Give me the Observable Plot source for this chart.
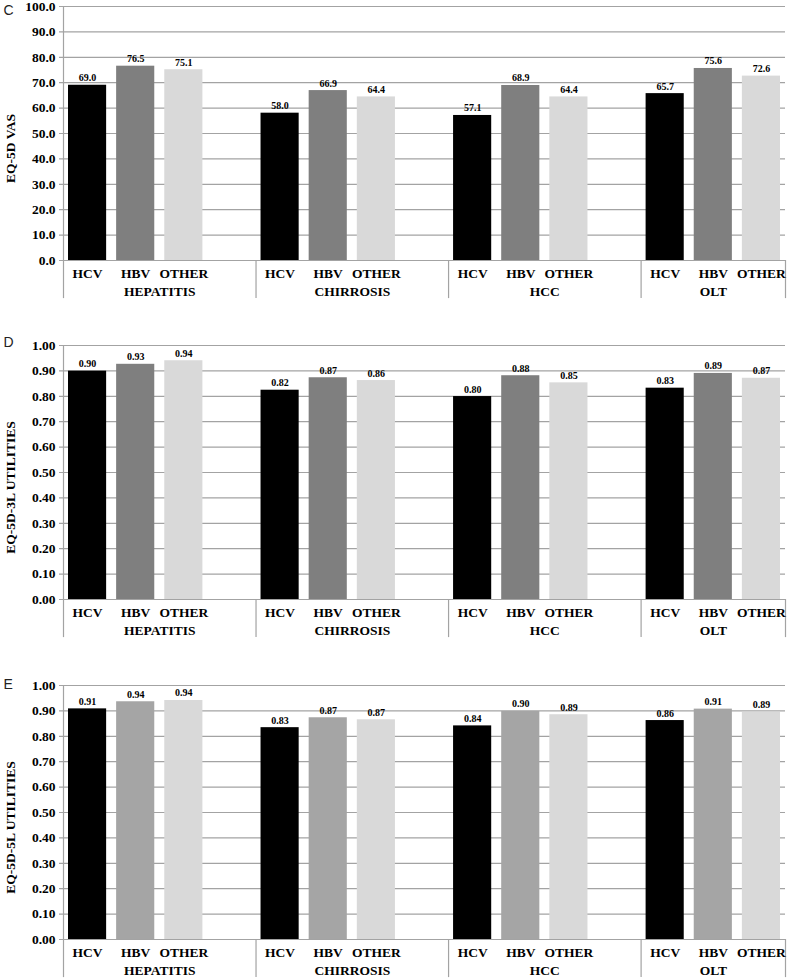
<!DOCTYPE html>
<html>
<head>
<meta charset="utf-8">
<script src="https://cdn.jsdelivr.net/npm/d3@7"></script>
<script src="https://cdn.jsdelivr.net/npm/@observablehq/plot@0.6"></script>
<style>
  html, body { margin: 0; padding: 0; background: white; overflow: hidden; }
  .panel { position: absolute; left: 0; }
</style>
</head>
<body>
<div id="c" class="panel" style="top:0px"></div>
<div id="d" class="panel" style="top:339px"></div>
<div id="e" class="panel" style="top:679px"></div>
<script>
const groups = ["HEPATITIS", "CHIRROSIS", "HCC", "OLT"];
const types = ["HCV", "HBV", "OTHER"];

const vasValues = [69.0, 76.5, 75.1, 58.0, 66.9, 64.4, 57.1, 68.9, 64.4, 65.7, 75.6, 72.6];
const vasLabels = ["69.0", "76.5", "75.1", "58.0", "66.9", "64.4", "57.1", "68.9", "64.4", "65.7", "75.6", "72.6"];
const eq3lValues = [0.899, 0.926, 0.940, 0.824, 0.873, 0.862, 0.799, 0.881, 0.853, 0.832, 0.890, 0.871];
const eq3lLabels = ["0.90", "0.93", "0.94", "0.82", "0.87", "0.86", "0.80", "0.88", "0.85", "0.83", "0.89", "0.87"];
const eq5lValues = [0.908, 0.936, 0.941, 0.834, 0.873, 0.865, 0.841, 0.898, 0.885, 0.862, 0.907, 0.894];
const eq5lLabels = ["0.91", "0.94", "0.94", "0.83", "0.87", "0.87", "0.84", "0.90", "0.89", "0.86", "0.91", "0.89"];

const vasTicks = [0, 10, 20, 30, 40, 50, 60, 70, 80, 90, 100];
const vasTickLabels = ["0.0", "10.0", "20.0", "30.0", "40.0", "50.0", "60.0", "70.0", "80.0", "90.0", "100.0"];
const utilTicks = [0, 0.1, 0.2, 0.3, 0.4, 0.5, 0.6, 0.7, 0.8, 0.9, 1.0];
const utilTickLabels = ["0.00", "0.10", "0.20", "0.30", "0.40", "0.50", "0.60", "0.70", "0.80", "0.90", "1.00"];

const colorsCD = ["#000000", "#7f7f7f", "#d9d9d9"];
const colorsE = ["#000000", "#a5a5a5", "#d9d9d9"];

const slotsPerGroup = types.length + 1;
const slotCount = groups.length * slotsPerGroup - 1;

function buildRows(values, labels) {
  const rows = [];
  groups.forEach((g, gi) => types.forEach((t, ti) => {
    const k = gi * types.length + ti;
    rows.push({group: g, type: t, slot: gi * slotsPerGroup + ti, value: values[k], label: labels[k]});
  }));
  return rows;
}
const groupRows = groups.map((g, gi) => {
  const start = gi * slotsPerGroup;
  const end = Math.min(start + slotsPerGroup, slotCount);
  return {group: g, start, end};
});
const separators = groupRows.map(d => d.start).concat([slotCount]);

const GRID = "#a3a3a3";

function panel({values, labels, ticks, tickLabels, title, letter, letterDy, colors}) {
  const rows = buildRows(values, labels);
  const ymax = ticks[ticks.length - 1];
  const tickRows = ticks.map((v, i) => ({v, t: tickLabels[i]}));
  return Plot.plot({
    width: 790,
    height: 298,
    marginTop: 6,
    marginBottom: 38,
    marginLeft: 63,
    marginRight: 5,
    style: {
      fontFamily: "'Liberation Serif', 'Times New Roman', serif",
      fontSize: "13.5px",
      fontWeight: "bold",
      color: "black",
      background: "white",
      overflow: "visible"
    },
    x: {type: "linear", domain: [0, slotCount], axis: null},
    y: {domain: [0, ymax], axis: null},
    color: {domain: types, range: colors},
    marks: [
      Plot.ruleY(tickRows, {y: "v", stroke: GRID, strokeWidth: 1.2, insetLeft: -4}),
      Plot.rect(rows, {x1: "slot", x2: d => d.slot + 1, y1: 0, y2: "value", fill: "type", insetLeft: 5, insetRight: 5}),
      Plot.ruleX([0], {stroke: GRID, strokeWidth: 1.2}),
      Plot.ruleX(separators, {x: d => d, y1: 0, y2: -0.15 * ymax, stroke: GRID, strokeWidth: 1.2}),
      Plot.text(tickRows, {x: 0, y: "v", text: "t", textAnchor: "end", dx: -8}),
      Plot.text(rows, {x: d => d.slot + 0.5, y: "value", text: "label", lineAnchor: "bottom", dy: -4, fontSize: 10}),
      Plot.text(rows, {x: d => d.slot + 0.5, y: 0, text: "type", dy: 13.5}),
      Plot.text(groupRows, {x: d => (d.start + d.end) / 2, y: 0, text: "group", dy: 31.5}),
      Plot.text([title], {frameAnchor: "left", rotate: -90, textAnchor: "middle", dx: -53, dy: 15, text: d => d}),
      Plot.text([letter], {frameAnchor: "top-left", textAnchor: "start", lineAnchor: "bottom", dx: -60, dy: letterDy, text: d => d,
        fontFamily: "'Liberation Sans', Arial, sans-serif", fontWeight: "normal", fontSize: 14, fill: "#222"})
    ]
  });
}

document.getElementById("c").appendChild(panel({
  values: vasValues, labels: vasLabels, ticks: vasTicks, tickLabels: vasTickLabels,
  title: "EQ-5D VAS", letter: "C", letterDy: 8, colors: colorsCD
}));
document.getElementById("d").appendChild(panel({
  values: eq3lValues, labels: eq3lLabels, ticks: utilTicks, tickLabels: utilTickLabels,
  title: "EQ-5D-3L UTILITIES", letter: "D", letterDy: 1, colors: colorsCD
}));
document.getElementById("e").appendChild(panel({
  values: eq5lValues, labels: eq5lLabels, ticks: utilTicks, tickLabels: utilTickLabels,
  title: "EQ-5D-5L UTILITIES", letter: "E", letterDy: 3, colors: colorsE
}));
</script>
</body>
</html>
